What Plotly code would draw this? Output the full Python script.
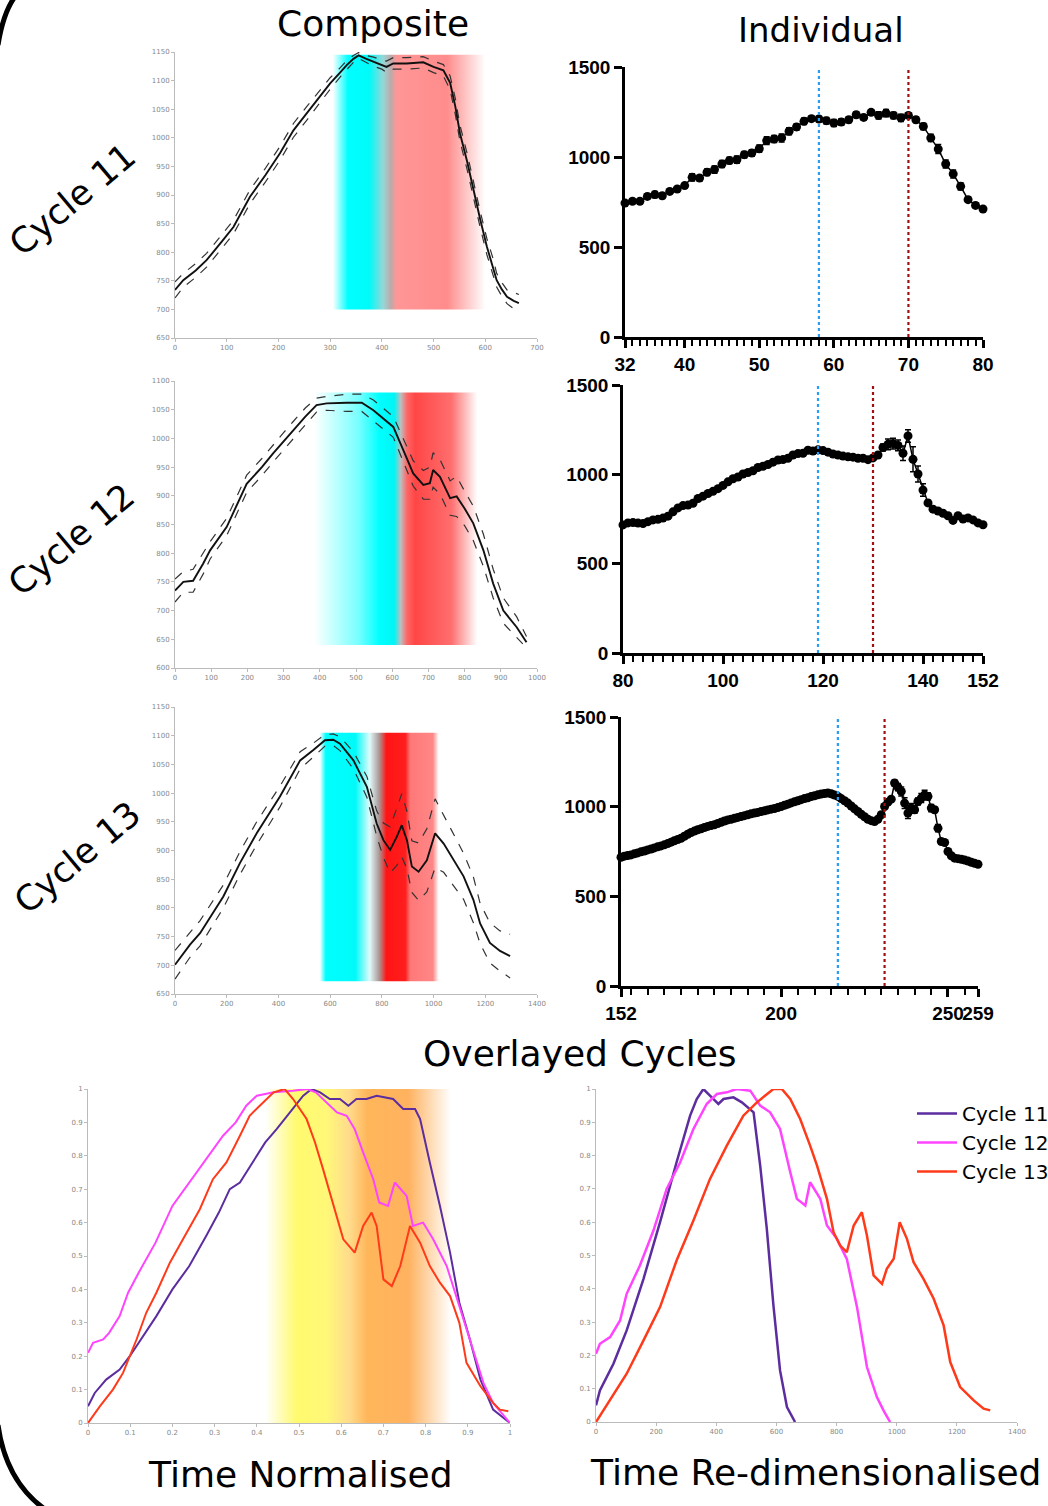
import plotly.graph_objects as go

W, H = 1048, 1506

# ---------------- Composite (mean +/- SD) ----------------
c11_comp_x = [0,16,40,61,90,113,145,175,203,229,255,280,300,320,332,345,355,370,384,400,409,422,448,480,500,519,532,542,551,565,577,590,603,615,622,632,642,655,665]
c11_comp_mean = [734,751,768,786,818,844,897,935,973,1013,1043,1072,1095,1115,1127,1138,1144,1138,1133,1128,1124,1130,1130,1132,1124,1118,1096,1055,1008,958,908,858,810,775,751,735,722,715,711]
c11_comp_sd = [14,12,12,12,12,12,12,12,12,12,12,10,10,8,8,6,5,6,8,8,10,10,10,10,10,10,12,14,14,14,14,14,14,14,12,12,12,14,15]

c12_comp_x = [0,23,50,78,97,143,198,240,271,300,326,360,391,419,474,516,548,576,603,631,658,686,704,713,732,760,778,800,824,852,879,907,944,971]
c12_comp_mean = [735,750,752,782,805,846,921,950,974,995,1014,1038,1058,1061,1062,1062,1049,1035,1020,979,939,919,922,945,933,896,899,878,852,805,747,700,671,645]
c12_comp_sd = [20,18,20,18,15,15,15,15,15,15,15,15,12,12,15,15,18,18,18,20,22,25,28,30,30,30,35,30,30,28,25,22,18,10]

c13_comp_x = [0,58,97,187,251,316,406,484,535,580,612,638,690,742,780,806,832,858,877,897,916,942,974,1006,1039,1077,1116,1154,1180,1218,1257,1296]
c13_comp_mean = [701,736,756,820,878,930,994,1057,1075,1092,1093,1086,1057,1011,947,918,901,924,944,918,872,863,883,930,912,883,855,814,773,739,725,716]
c13_comp_sd = [25,22,22,20,20,20,18,15,12,10,10,12,15,18,22,30,40,50,55,50,45,50,55,60,50,45,40,40,35,35,35,38]

# ---------------- Individual (GraphPad style) ----------------
c11_ind_x = list(range(32, 81))
c11_ind_y = [744,754,754,781,791,785,809,822,841,887,883,915,930,961,980,985,1013,1022,1046,1091,
             1100,1106,1143,1167,1198,1213,1211,1202,1189,1194,1207,1235,1220,1248,1231,1244,1231,1217,1231,1207,
             1170,1106,1044,961,906,837,763,731,711]
c11_ind_err = [8,10,10,15,18,15,12,12,12,20,15,18,20,20,18,20,18,18,20,22,20,22,20,18,18,15,15,18,20,18,
               15,15,15,15,20,20,18,20,15,15,18,20,25,22,22,20,15,12,10]

c12_ind_x = list(range(80, 153))
c12_ind_y = [717,728,730,727,725,735,745,748,755,766,790,812,825,828,838,865,878,893,905,920,
             938,958,975,985,1002,1010,1020,1038,1045,1055,1068,1080,1083,1090,1108,1116,1118,1135,1130,1137,
             1133,1124,1114,1108,1102,1098,1096,1090,1090,1082,1092,1108,1150,1168,1172,1162,1118,1215,1084,1002,
             912,840,805,795,782,768,742,768,750,756,745,728,718]
c12_ind_err = [6,6,6,6,6,6,6,6,6,6,6,6,6,6,6,6,6,6,6,6,6,6,6,6,6,6,6,6,6,6,6,6,6,6,6,6,6,6,6,6,
               6,6,6,6,6,6,6,6,6,6,6,10,20,30,30,30,40,35,70,45,35,15,10,8,8,8,8,8,8,8,8,8,8]

c13_ind_x = list(range(152, 260))
c13_ind_y = [718,724,728,731,737,742,748,753,759,764,770,776,781,787,794,802,810,817,824,835,
             846,856,864,871,877,884,890,895,899,906,913,920,926,930,935,940,945,950,955,960,
             964,968,973,977,982,986,990,995,1001,1008,1014,1021,1027,1033,1039,1045,1050,1056,1061,1066,
             1070,1073,1076,1072,1065,1057,1045,1033,1020,1004,988,973,958,944,930,922,917,930,955,1001,
             1025,1042,1132,1109,1085,1020,964,992,983,1029,1048,1066,1057,992,983,880,806,800,750,726,
             713,710,707,702,697,690,684,679]
c13_ind_err = [5,5,5,5,5,5,5,5,5,5,5,5,5,5,5,5,5,5,5,5,5,5,5,5,5,5,5,5,5,5,5,5,5,5,5,5,5,5,5,5,
               5,5,5,5,5,5,5,5,5,5,5,5,5,5,5,5,5,5,5,5,5,5,5,5,5,5,5,5,5,5,5,5,5,5,5,5,5,5,5,5,
               5,5,15,20,25,30,30,25,20,20,25,25,20,20,15,20,15,10,6,6,6,6,6,6,6,6,6,6]

ind_markers = [(58, 70), (119, 130), (217, 231)]  # (blue, red) event times

# ---------------- Overlayed cycles ----------------
cycle_names = ["Cycle 11", "Cycle 12", "Cycle 13"]
cycle_colors = ["#5b2d9e", "#ff44ff", "#ff3a1a"]

c11_norm_x = [0,0.016,0.043,0.075,0.099,0.13,0.162,0.20,0.24,0.28,0.31,0.336,0.36,0.39,0.42,0.447,0.478,0.51,0.53,0.55,0.573,0.597,0.617,0.636,0.66,0.684,0.723,0.747,0.775,0.787,0.81,0.834,0.858,0.88,0.905,0.93,0.96,1.0]
c11_norm_y = [0.05,0.09,0.13,0.16,0.20,0.26,0.32,0.40,0.47,0.56,0.63,0.70,0.72,0.78,0.84,0.88,0.93,0.98,1.0,0.99,0.97,0.97,0.95,0.97,0.97,0.98,0.97,0.94,0.94,0.91,0.78,0.65,0.51,0.36,0.25,0.13,0.04,0.0]
c12_norm_x = [0,0.012,0.036,0.05,0.075,0.095,0.12,0.16,0.20,0.24,0.28,0.32,0.35,0.375,0.40,0.44,0.486,0.52,0.54,0.565,0.59,0.613,0.632,0.652,0.676,0.69,0.711,0.727,0.755,0.77,0.794,0.818,0.85,0.88,0.913,0.937,0.96,1.0]
c12_norm_y = [0.21,0.24,0.25,0.27,0.32,0.39,0.45,0.54,0.65,0.72,0.79,0.86,0.90,0.95,0.98,0.99,0.995,1.0,0.99,0.96,0.93,0.92,0.88,0.81,0.73,0.66,0.65,0.72,0.68,0.59,0.60,0.55,0.47,0.35,0.22,0.12,0.06,0.0]
c13_norm_x = [0,0.028,0.059,0.083,0.115,0.138,0.162,0.194,0.225,0.265,0.296,0.328,0.36,0.383,0.407,0.44,0.466,0.486,0.518,0.538,0.557,0.58,0.605,0.632,0.652,0.672,0.684,0.70,0.72,0.74,0.763,0.787,0.81,0.834,0.858,0.88,0.897,0.93,0.96,0.976,0.996]
c13_norm_y = [0,0.05,0.10,0.15,0.25,0.33,0.39,0.48,0.55,0.64,0.73,0.78,0.86,0.92,0.95,0.99,1.0,0.97,0.91,0.84,0.76,0.66,0.55,0.51,0.59,0.63,0.59,0.43,0.41,0.47,0.59,0.54,0.47,0.42,0.38,0.30,0.18,0.11,0.06,0.04,0.035]

c11_time_x = [0,13,58,102,158,213,268,313,335,357,379,407,424,457,485,513,524,546,568,590,612,635,662]
c11_time_y = [0.05,0.095,0.175,0.275,0.43,0.60,0.78,0.92,0.97,1.0,0.98,0.955,0.97,0.975,0.96,0.94,0.93,0.77,0.58,0.35,0.155,0.045,0.0]
c12_time_x = [0,13,47,80,102,146,191,235,280,324,368,402,435,468,513,546,579,612,646,668,696,712,746,768,801,834,868,901,934,956,978]
c12_time_y = [0.205,0.235,0.255,0.305,0.385,0.47,0.575,0.70,0.78,0.88,0.955,0.985,0.99,1.0,0.995,0.95,0.93,0.88,0.75,0.67,0.65,0.72,0.67,0.59,0.55,0.49,0.345,0.165,0.075,0.035,0.0]
c13_time_x = [0,47,102,158,213,268,324,379,435,490,535,590,618,646,679,712,735,768,790,812,834,857,884,901,923,951,967,990,1010,1034,1056,1089,1123,1156,1178,1211,1256,1289,1311]
c13_time_y = [0,0.065,0.145,0.245,0.345,0.485,0.605,0.73,0.83,0.92,0.96,1.0,1.0,0.97,0.91,0.83,0.77,0.67,0.57,0.53,0.51,0.59,0.63,0.56,0.44,0.415,0.46,0.49,0.60,0.55,0.48,0.43,0.37,0.29,0.18,0.105,0.065,0.04,0.035]

# phase shading: (x0, x1, y0, y1, colorscale)
comp_shades = [
    (305, 600, 700, 1145, [[0, "rgba(255,255,255,1)"], [0.10, "rgb(0,255,255)"], [0.24, "rgb(0,250,250)"],
                          [0.33, "rgb(150,215,215)"], [0.38, "rgb(190,170,170)"], [0.42, "rgb(255,150,150)"],
                          [0.75, "rgb(255,140,140)"], [1.0, "rgba(255,255,255,1)"]]),
    (385, 835, 640, 1080, [[0, "rgba(255,255,255,1)"], [0.27, "rgb(120,255,255)"], [0.40, "rgb(0,255,255)"],
                          [0.49, "rgb(0,245,245)"], [0.53, "rgb(190,190,190)"], [0.57, "rgb(255,100,100)"],
                          [0.62, "rgb(255,70,70)"], [0.84, "rgb(255,110,110)"], [1.0, "rgba(255,255,255,1)"]]),
    (560, 1020, 672, 1105, [[0, "rgba(255,255,255,1)"], [0.05, "rgb(0,255,255)"], [0.30, "rgb(0,250,250)"],
                           [0.42, "rgb(225,250,250)"], [0.50, "rgb(170,150,150)"], [0.56, "rgb(255,20,20)"],
                           [0.72, "rgb(255,30,30)"], [0.76, "rgb(255,120,120)"], [0.95, "rgb(255,135,135)"],
                           [1.0, "rgba(255,255,255,1)"]]),
]
ov_shade = (0.42, 0.86, 0.0, 1.0, [[0, "rgba(255,255,255,1)"], [0.17, "rgb(255,250,110)"], [0.33, "rgb(255,248,120)"],
                                   [0.45, "rgb(255,220,140)"], [0.55, "rgb(255,182,90)"], [0.77, "rgb(255,178,95)"],
                                   [1.0, "rgba(255,255,255,1)"]])

def dom_x(a, b):
    return [a / W, b / W]

def dom_y(top, bot):
    return [1 - bot / H, 1 - top / H]

fig = go.Figure()

# ----- composite panels -----
comp = [(c11_comp_x, c11_comp_mean, c11_comp_sd), (c12_comp_x, c12_comp_mean, c12_comp_sd),
        (c13_comp_x, c13_comp_mean, c13_comp_sd)]
for i, ((cx, cm, cs), sh) in enumerate(zip(comp, comp_shades)):
    ax = str(i + 1) if i else ""
    xa, ya = "x" + ax, "y" + ax
    x0, x1, y0, y1, cscale = sh
    fig.add_trace(go.Scatter(x=[x0, x1, x1, x0, x0], y=[y0, y0, y1, y1, y0], fill="toself", mode="none",
                             fillgradient=dict(type="horizontal", colorscale=cscale, start=x0, stop=x1),
                             xaxis=xa, yaxis=ya, showlegend=False, hoverinfo="skip"))
    up = [m + s for m, s in zip(cm, cs)]
    lo = [m - s for m, s in zip(cm, cs)]
    for arr in (up, lo):
        fig.add_trace(go.Scatter(x=cx, y=arr, mode="lines", line=dict(color="#333", width=1.2, dash="dash"),
                                 xaxis=xa, yaxis=ya, showlegend=False, hoverinfo="skip"))
    fig.add_trace(go.Scatter(x=cx, y=cm, mode="lines", line=dict(color="#111", width=1.9),
                             xaxis=xa, yaxis=ya, showlegend=False))

# ----- individual panels -----
ind = [(c11_ind_x, c11_ind_y, c11_ind_err), (c12_ind_x, c12_ind_y, c12_ind_err), (c13_ind_x, c13_ind_y, c13_ind_err)]
for i, (ix, iy, ie) in enumerate(ind):
    ax = str(i + 4)
    fig.add_trace(go.Scatter(x=ix, y=iy, mode="lines+markers", line=dict(color="black", width=1.5),
                             marker=dict(color="black", size=9),
                             error_y=dict(type="data", array=ie, color="black", thickness=1.5, width=3),
                             xaxis="x" + ax, yaxis="y" + ax, showlegend=False, cliponaxis=False))

# ----- overlay panels -----
ox0, ox1, oy0, oy1, ocs = ov_shade
fig.add_trace(go.Scatter(x=[ox0, ox1, ox1, ox0, ox0], y=[oy0, oy0, oy1, oy1, oy0], fill="toself", mode="none",
                         fillgradient=dict(type="horizontal", colorscale=ocs, start=ox0, stop=ox1),
                         xaxis="x7", yaxis="y7", showlegend=False, hoverinfo="skip"))
for xs, ys, nm, col in zip([c11_norm_x, c12_norm_x, c13_norm_x], [c11_norm_y, c12_norm_y, c13_norm_y],
                           cycle_names, cycle_colors):
    fig.add_trace(go.Scatter(x=xs, y=ys, mode="lines", line=dict(color=col, width=2), name=nm,
                             xaxis="x7", yaxis="y7", showlegend=False))
for xs, ys, nm, col in zip([c11_time_x, c12_time_x, c13_time_x], [c11_time_y, c12_time_y, c13_time_y],
                           cycle_names, cycle_colors):
    fig.add_trace(go.Scatter(x=xs, y=ys, mode="lines", line=dict(color=col, width=2.5), name=nm,
                             xaxis="x8", yaxis="y8", showlegend=True))

# ----- axes -----
small = dict(family="DejaVu Sans", size=7, color="#888")
thin = dict(showline=True, linecolor="#bbb", linewidth=1, ticks="outside", ticklen=3, tickcolor="#bbb",
            showgrid=False, zeroline=False, tickfont=small)
bold = dict(family="Liberation Sans", size=19, color="black", weight="bold")
thick = dict(showline=True, linecolor="black", linewidth=2.5, ticks="outside", ticklen=8, tickwidth=2.5,
             tickcolor="black", showgrid=False, zeroline=False, tickfont=bold, tickangle=0)

lay = {}
cx_dom = dom_x(175, 537)
comp_cfg = [((52, 338), [0, 700], 100, [650, 1150]),
            ((381, 668), [0, 1000], 100, [600, 1100]),
            ((707, 994), [0, 1400], 200, [650, 1150])]
for i, (yd, xr, dt, yr) in enumerate(comp_cfg):
    ax = str(i + 1) if i else ""
    lay["xaxis" + ax] = dict(domain=cx_dom, range=xr, dtick=dt, tick0=0, anchor="y" + ax, **thin)
    lay["yaxis" + ax] = dict(domain=dom_y(*yd), range=yr, dtick=50, tick0=0, anchor="x" + ax, **thin)

ind_cfg = [((625, 983), (67, 337), [32, 80], [32, 40, 50, 60, 70, 80], 32, 1),
           ((623, 983), (385, 653), [80, 152], [80, 100, 120, 140, 152], 80, 2),
           ((621, 978), (717, 986), [152, 259], [152, 200, 250, 259], 155, 5)]
for i, (xd, yd, xr, tv, m0, md) in enumerate(ind_cfg):
    ax = str(i + 4)
    lay["xaxis" + ax] = dict(domain=dom_x(*xd), range=xr, tickvals=tv, anchor="y" + ax,
                             minor=dict(tick0=m0, dtick=md, ticks="outside", ticklen=6, tickwidth=2,
                                        tickcolor="black"), **thick)
    lay["yaxis" + ax] = dict(domain=dom_y(*yd), range=[0, 1500], tickvals=[0, 500, 1000, 1500],
                             anchor="x" + ax, **thick)

lay["xaxis7"] = dict(domain=dom_x(88, 510), range=[0, 1], dtick=0.1, anchor="y7", **thin)
lay["yaxis7"] = dict(domain=dom_y(1089, 1423), range=[0, 1], dtick=0.1, anchor="x7", **thin)
lay["xaxis8"] = dict(domain=dom_x(596, 1017), range=[0, 1400], dtick=200, anchor="y8", **thin)
lay["yaxis8"] = dict(domain=dom_y(1089, 1422), range=[0, 1], dtick=0.1, anchor="x8", **thin)

# ----- event lines on individual panels -----
shapes = []
for i, (tb, tr) in enumerate(ind_markers):
    ax = str(i + 4)
    for t, col in ((tb, "#2a9df4"), (tr, "#a01010")):
        shapes.append(dict(type="line", xref="x" + ax, yref="y" + ax, x0=t, x1=t, y0=0, y1=1500,
                           line=dict(color=col, width=2.2, dash="dot")))

# big rounded frame (partially visible at the left edge)
shapes.append(dict(type="path", xref="paper", yref="paper",
                   path=f"M {14/W},{1+2/H} Q {3/W},{1-14/H} {-2/W},{1-45/H}",
                   line=dict(color="black", width=5)))
shapes.append(dict(type="path", xref="paper", yref="paper",
                   path=f"M {-2/W},{1-1425/H} Q {6/W},{1-1482/H} {46/W},{-4/H}",
                   line=dict(color="black", width=5)))

# ----- text -----
def ann(text, px, py, angle=0, size=36):
    return dict(text=text, x=px / W, y=1 - py / H, xref="paper", yref="paper", showarrow=False,
                textangle=angle, font=dict(family="DejaVu Sans", size=size, color="black"),
                xanchor="center", yanchor="middle")

annotations = [
    ann("Composite", 373, 24), ann("Individual", 821, 30, size=34), ann("Overlayed Cycles", 580, 1053),
    ann("Time Normalised", 300, 1474), ann("Time Re-dimensionalised", 815, 1472),
    ann("Cycle 11", 72, 200, -40, 35), ann("Cycle 12", 71, 540, -40, 35), ann("Cycle 13", 77, 858, -40, 35),
]

fig.update_layout(
    width=W, height=H, margin=dict(l=0, r=0, t=0, b=0, autoexpand=False),
    paper_bgcolor="white", plot_bgcolor="rgba(0,0,0,0)",
    shapes=shapes, annotations=annotations,
    legend=dict(x=912 / W, y=1 - 1094 / H, xanchor="left", yanchor="top", bgcolor="rgba(0,0,0,0)",
                font=dict(family="DejaVu Sans", size=20, color="black"), itemwidth=40, tracegroupgap=0),
    **lay,
)

fig.write_html("out.html")
